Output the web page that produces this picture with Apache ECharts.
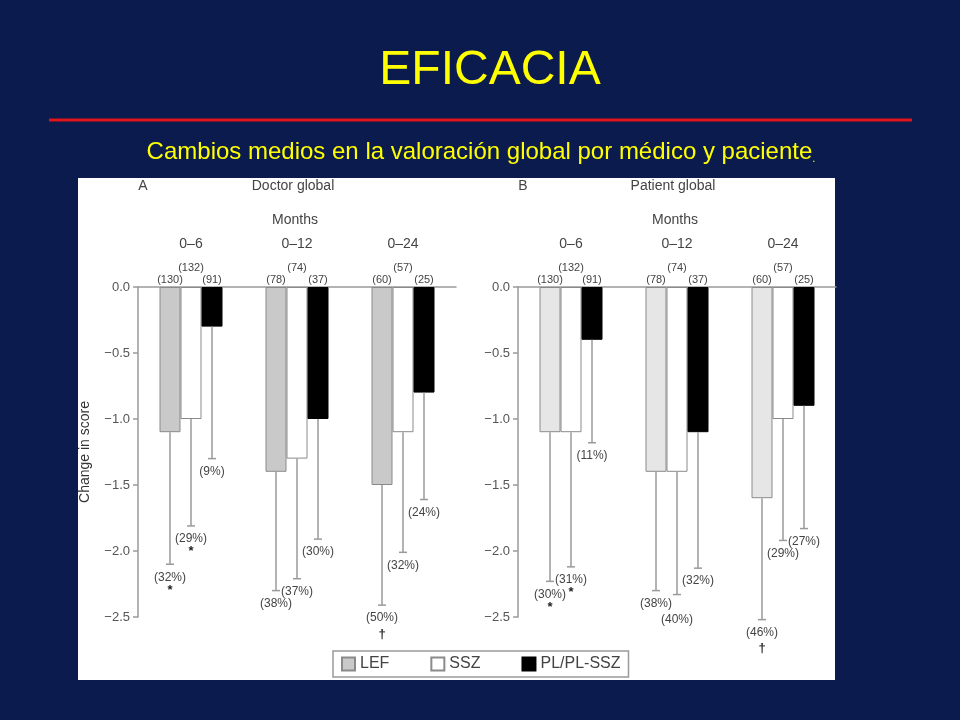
<!DOCTYPE html>
<html><head><meta charset="utf-8">
<script src="https://cdn.jsdelivr.net/npm/echarts@6/dist/echarts.min.js"></script>
<style>html,body{margin:0;padding:0;background:#0b1b4d}#c{width:960px;height:720px}</style>
</head><body><div id="c"></div><script>
// ---- data ----
const categories = ['0–6', '0–12', '0–24'];
const groups = ['LEF', 'SSZ', 'PL/PL-SSZ'];

const nLEF = [130, 78, 60];
const nSSZ = [132, 74, 57];
const nPL = [91, 37, 25];

// Doctor global (A)
const doctorLEF = [-1.1, -1.4, -1.5];
const doctorSSZ = [-1.0, -1.3, -1.1];
const doctorPL = [-0.3, -1.0, -0.8];
const doctorLEFLow = [-2.1, -2.3, -2.41];
const doctorSSZLow = [-1.81, -2.21, -2.01];
const doctorPLLow = [-1.3, -1.91, -1.61];
const doctorLEFPct = ['32%', '38%', '50%'];
const doctorSSZPct = ['29%', '37%', '32%'];
const doctorPLPct = ['9%', '30%', '24%'];
const doctorLEFSym = ['*', '', '†'];
const doctorSSZSym = ['*', '', ''];
const doctorPLSym = ['', '', ''];

// Patient global (B)
const patientLEF = [-1.1, -1.4, -1.6];
const patientSSZ = [-1.1, -1.4, -1.0];
const patientPL = [-0.4, -1.1, -0.9];
const patientLEFLow = [-2.23, -2.3, -2.52];
const patientSSZLow = [-2.12, -2.33, -1.92];
const patientPLLow = [-1.18, -2.13, -1.83];
const patientLEFPct = ['30%', '38%', '46%'];
const patientSSZPct = ['31%', '40%', '29%'];
const patientPLPct = ['11%', '32%', '27%'];
const patientLEFSym = ['*', '', '†'];
const patientSSZSym = ['*', '', ''];
const patientPLSym = ['', '', ''];

// ---- style ----
const FONT = "'Liberation Sans', Arial, Helvetica, sans-serif";
const BW = 21;
const AX = '#9a9a9a';
const TXT = '#444';
// extra downward nudge for overlapping percent labels (panel, group, category)
const pctNudge = { 'B-1-1': 12 };

function panelSeries(gi, tag, vals, lows, pcts, syms, lefColor) {
  const fills = [lefColor, '#ffffff', '#000000'];
  const borders = ['#8a8a8a', '#8a8a8a', '#000000'];
  const ns = [nLEF, nSSZ, nPL];
  const out = [];
  groups.forEach((g, k) => {
    out.push({
      type: 'bar', name: g, xAxisIndex: gi, yAxisIndex: gi,
      data: vals[k], barWidth: BW, barGap: '0%',
      itemStyle: { color: fills[k], borderColor: borders[k], borderWidth: 1 },
      label: {
        show: true, position: 'top', distance: 2,
        offset: k === 1 ? [0, -12] : [0, 0],
        formatter: p => '(' + ns[k][p.dataIndex] + ')',
        fontSize: 11, color: TXT, fontFamily: FONT
      },
      emphasis: { disabled: true }, silent: true, z: 2
    });
  });
  groups.forEach((g, k) => {
    out.push({
      type: 'custom', xAxisIndex: gi, yAxisIndex: gi, silent: true, z: 3,
      data: vals[k].map((v, i) => [i, v, lows[k][i]]),
      encode: { x: 0, y: [1, 2] },
      renderItem: (params, api) => {
        const i = params.dataIndex;
        const ci = api.value(0);
        const a = api.coord([ci, api.value(1)]);
        const b = api.coord([ci, api.value(2)]);
        const x = a[0] + (k - 1) * BW;
        const nudge = pctNudge[tag + '-' + k + '-' + i] || 0;
        const ls = { stroke: '#9a9a9a', lineWidth: 1.5 };
        const children = [
          { type: 'line', shape: { x1: x, y1: a[1], x2: x, y2: b[1] }, style: ls },
          { type: 'line', shape: { x1: x - 4, y1: b[1], x2: x + 4, y2: b[1] }, style: ls },
          { type: 'text', style: { text: '(' + pcts[k][i] + ')', x: x, y: b[1] + 13 + nudge,
              align: 'center', verticalAlign: 'middle', fill: TXT, fontSize: 12, fontFamily: FONT } }
        ];
        if (syms[k][i]) {
          const s = syms[k][i];
          children.push({ type: 'text', style: { text: s, x: x, y: b[1] + 13 + nudge + (s === '†' ? 16 : 13),
              align: 'center', verticalAlign: 'middle', fill: '#222', fontSize: 13,
              fontWeight: 'bold', fontFamily: FONT } });
        }
        return { type: 'group', children };
      }
    });
  });
  return out;
}

function xAx(gi) {
  return {
    type: 'category', gridIndex: gi, data: categories, position: 'top',
    axisLine: { show: true, lineStyle: { color: AX, width: 1.5 } },
    axisTick: { show: false },
    axisLabel: { margin: 36, fontSize: 14, color: TXT, fontFamily: FONT },
    splitLine: { show: false }
  };
}
function yAx(gi, name) {
  return {
    type: 'value', gridIndex: gi, min: -2.5, max: 0, interval: 0.5,
    name: name, nameLocation: 'middle', nameGap: 46,
    nameTextStyle: { fontSize: 14, color: '#333', fontFamily: FONT },
    axisLine: { show: true, lineStyle: { color: AX, width: 1.5 } },
    axisTick: { show: true, length: 5, lineStyle: { color: AX, width: 1.5 } },
    axisLabel: { margin: 8, fontSize: 13, color: '#555', fontFamily: FONT,
      formatter: v => v === 0 ? '0.0' : '\u2212' + Math.abs(v).toFixed(1) },
    splitLine: { show: false }
  };
}

const chart = echarts.init(document.getElementById('c'), null, { renderer: 'canvas' });
chart.setOption({
  backgroundColor: '#0b1b4d',
  animation: false,
  textStyle: { fontFamily: FONT },
  grid: [
    { left: 138, top: 287, width: 318, height: 330 },
    { left: 518, top: 287, width: 318, height: 330 }
  ],
  xAxis: [xAx(0), xAx(1)],
  yAxis: [yAx(0, 'Change in score'), yAx(1, '')],
  legend: {
    data: groups, left: 333, top: 651, selectedMode: false,
    backgroundColor: '#ffffff', borderColor: '#999', borderWidth: 1.5,
    padding: [5, 8], itemGap: 41, itemWidth: 13, itemHeight: 13, icon: 'rect',
    textStyle: { fontSize: 16, color: TXT, fontFamily: FONT }
  },
  graphic: [
    { type: 'rect', z: -100, silent: true, shape: { x: 78, y: 178, width: 757, height: 502 }, style: { fill: '#ffffff' } },
    { type: 'text', silent: true, style: { text: 'EFICACIA', x: 490, y: 71, align: 'center', verticalAlign: 'middle',
        fill: '#ffff00', fontSize: 48, fontFamily: FONT } },
    { type: 'line', silent: true, shape: { x1: 49, y1: 120, x2: 912, y2: 120 }, style: { stroke: '#e0141b', lineWidth: 3 } },
    { type: 'text', silent: true, style: {
        text: '{a|Cambios medios en la valoración global por médico y paciente}{b|.}',
        x: 481, y: 152, align: 'center', verticalAlign: 'middle',
        rich: { a: { fill: '#ffff00', fontSize: 24, fontFamily: FONT }, b: { fill: '#ffff00', fontSize: 11, fontFamily: FONT, verticalAlign: 'bottom' } } } },
    { type: 'text', silent: true, style: { text: 'A', x: 143, y: 186, align: 'center', verticalAlign: 'middle', fill: TXT, fontSize: 14, fontFamily: FONT } },
    { type: 'text', silent: true, style: { text: 'Doctor global', x: 293, y: 186, align: 'center', verticalAlign: 'middle', fill: TXT, fontSize: 14, fontFamily: FONT } },
    { type: 'text', silent: true, style: { text: 'Months', x: 295, y: 220, align: 'center', verticalAlign: 'middle', fill: TXT, fontSize: 14, fontFamily: FONT } },
    { type: 'text', silent: true, style: { text: 'B', x: 523, y: 186, align: 'center', verticalAlign: 'middle', fill: TXT, fontSize: 14, fontFamily: FONT } },
    { type: 'text', silent: true, style: { text: 'Patient global', x: 673, y: 186, align: 'center', verticalAlign: 'middle', fill: TXT, fontSize: 14, fontFamily: FONT } },
    { type: 'text', silent: true, style: { text: 'Months', x: 675, y: 220, align: 'center', verticalAlign: 'middle', fill: TXT, fontSize: 14, fontFamily: FONT } }
  ],
  series: [
    ...panelSeries(0, 'A', [doctorLEF, doctorSSZ, doctorPL], [doctorLEFLow, doctorSSZLow, doctorPLLow],
      [doctorLEFPct, doctorSSZPct, doctorPLPct], [doctorLEFSym, doctorSSZSym, doctorPLSym], '#c9c9c9'),
    ...panelSeries(1, 'B', [patientLEF, patientSSZ, patientPL], [patientLEFLow, patientSSZLow, patientPLLow],
      [patientLEFPct, patientSSZPct, patientPLPct], [patientLEFSym, patientSSZSym, patientPLSym], '#e6e6e6')
  ]
});
</script></body></html>
